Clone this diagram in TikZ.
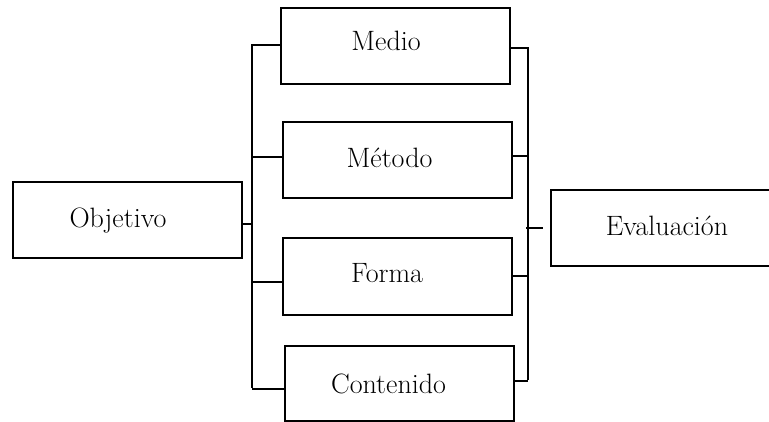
\documentclass[tikz,border=0pt]{standalone}
\begin{document}
\begin{tikzpicture}[x=1pt,y=-1pt,
  box/.style={draw,line width=1.5pt,rectangle,inner sep=0pt,anchor=north west},
  lbl/.style={anchor=base,inner sep=0pt,font=\fontsize{28}{32}\selectfont},
  conn/.style={line width=1.5pt}]
\useasboundingbox (0,0) rectangle (769,421);
% boxes
\node[box,minimum width=229pt,minimum height=76pt] (obj) at (12,181) {};
\node[box,minimum width=229pt,minimum height=76pt] (medio) at (280,7) {};
\node[box,minimum width=229pt,minimum height=76pt] (metodo) at (282,121) {};
\node[box,minimum width=229pt,minimum height=77pt] (forma) at (282,237) {};
\node[box,minimum width=229pt,minimum height=75pt] (cont) at (284,345) {};
\node[box,minimum width=229pt,minimum height=76pt] (eval) at (550,189) {};
% texts
\node[lbl] (tobj) at (118,227) {Objetivo};
\node[lbl] (tmedio) at (386,50) {Medio};
\node[lbl] (tmetodo) at (389.5,167) {Método};
\node[lbl] (tforma) at (387,282) {Forma};
\node[lbl] (tcont) at (388.5,393) {Contenido};
\node[lbl] (teval) at (667,235) {Evaluación};
% buses
\coordinate (lbusT) at (252,44);
\coordinate (lbusB) at (252,388);
\coordinate (rbusT) at (528,47);
\coordinate (rbusB) at (528,380);
\draw[conn] (lbusT) -- (lbusB);
\draw[conn] (rbusT) -- (rbusB);
% left connectors
\draw[conn] ([yshift=-4pt]obj.east) -- ([yshift=-4pt]obj.east -| lbusT);
\draw[conn] ([yshift=1pt]medio.west) -- ([yshift=1pt]medio.west -| lbusT);
\draw[conn] ([yshift=3pt]metodo.west) -- ([yshift=3pt]metodo.west -| lbusT);
\draw[conn] ([yshift=-5.5pt]forma.west) -- ([yshift=-5.5pt]forma.west -| lbusT);
\draw[conn] ([yshift=-5.5pt]cont.west) -- ([yshift=-5.5pt]cont.west -| lbusT);
% right connectors
\draw[conn] ([yshift=-2pt]medio.east) -- ([yshift=-2pt]medio.east -| rbusT);
\draw[conn] ([yshift=4pt]metodo.east) -- ([yshift=4pt]metodo.east -| rbusT);
\draw[conn] ([yshift=0.5pt]forma.east) -- ([yshift=0.5pt]forma.east -| rbusT);
\draw[conn] ([yshift=2.5pt]cont.east) -- ([yshift=2.5pt]cont.east -| rbusT);
\coordinate (evalEnd) at ([xshift=-7pt]eval.west);
\draw[conn] ([xshift=-2pt]eval.west -| rbusT) -- (evalEnd);
\end{tikzpicture}
\end{document}
